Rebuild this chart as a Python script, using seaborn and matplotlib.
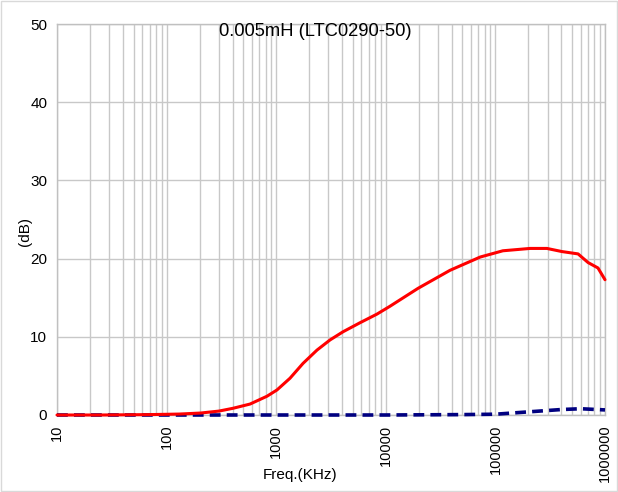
import numpy as np
import pandas as pd
import matplotlib
matplotlib.use("Agg")
import matplotlib.pyplot as plt
import seaborn as sns
from matplotlib.ticker import LogLocator, FixedLocator, NullFormatter

freq_red = [10, 25, 70, 130, 204, 300, 404, 577, 824, 1016, 1336, 1757, 2356, 3100, 4080, 5820,
            8300, 10900, 19700, 38500, 72700, 117000, 207000, 295000, 405000, 568000, 700000, 863000, 1000000]
db_red = [0.0, 0.0, 0.05, 0.12, 0.25, 0.5, 0.86, 1.4, 2.4, 3.2, 4.7, 6.6, 8.3, 9.6, 10.65, 11.8,
          12.9, 13.9, 16.2, 18.5, 20.2, 21.0, 21.3, 21.3, 20.9, 20.6, 19.5, 18.8, 17.3]

freq_blue = [10, 100, 1000, 10000, 50000, 100000, 200000, 400000, 600000, 1000000]
db_blue = [0.0, 0.0, 0.0, 0.0, 0.05, 0.1, 0.4, 0.7, 0.8, 0.65]

title = "0.005mH (LTC0290-50)"
xlabel = "Freq.(KHz)"
ylabel = "(dB)"
xticks = [10, 100, 1000, 10000, 100000, 1000000]
xticklabels = ["10", "100", "1000", "10000", "100000", "1000000"]
yticks = [0, 10, 20, 30, 40, 50]

sns.set_style("white")
plt.rcParams["font.family"] = ["Liberation Sans", "DejaVu Sans"]
plt.rcParams["text.color"] = "black"
plt.rcParams["xtick.color"] = "black"
plt.rcParams["ytick.color"] = "black"

fig = plt.figure(figsize=(6.18, 4.92), dpi=100)
ax = fig.add_axes([57/618, 1-415/492, (605-57)/618, (415-24)/492])

df_r = pd.DataFrame({"f": freq_red, "db": db_red})
df_b = pd.DataFrame({"f": freq_blue, "db": db_blue})

ax.set_xscale("log")
sns.lineplot(data=df_b, x="f", y="db", ax=ax, color="#000080", lw=2.6, linestyle=(0, (3.0, 1.7)),
             zorder=3, clip_on=False)
sns.lineplot(data=df_r, x="f", y="db", ax=ax, color="#ff0000", lw=2.2, zorder=4, clip_on=False)

ax.set_xlim(10, 1000000)
ax.set_ylim(0, 50)
ax.xaxis.set_major_locator(FixedLocator(xticks))
ax.set_xticklabels(xticklabels, rotation=90, fontsize=10.5)
ax.xaxis.set_minor_locator(LogLocator(base=10, subs=np.arange(2, 10)))
ax.xaxis.set_minor_formatter(NullFormatter())
ax.set_yticks(yticks)
ax.set_yticklabels([str(v) for v in yticks], fontsize=11)
ax.grid(True, which="both", axis="x", color="#c8c8c8", lw=1)
ax.grid(True, which="major", axis="y", color="#c8c8c8", lw=1)
ax.tick_params(axis="both", which="both", length=0, pad=7)
for s in ax.spines.values():
    s.set_color("#c0c0c0")
    s.set_linewidth(1)

ax.set_xlabel("")
ax.set_ylabel("")
fig.text(300/618, 1-475/492, xlabel, ha="center", va="center", fontsize=11)
fig.text(25/618, 1-232/492, ylabel, ha="center", va="center", rotation=90, fontsize=11)
fig.text(315/618, 1-31/492, title, ha="center", va="center", fontsize=13.2)

fig.patches.append(plt.Rectangle((0.002, 0.002), 0.996, 0.996, transform=fig.transFigure,
                                 fill=False, edgecolor="#d9d9d9", lw=1))
fig.savefig("out.png", dpi=100)
